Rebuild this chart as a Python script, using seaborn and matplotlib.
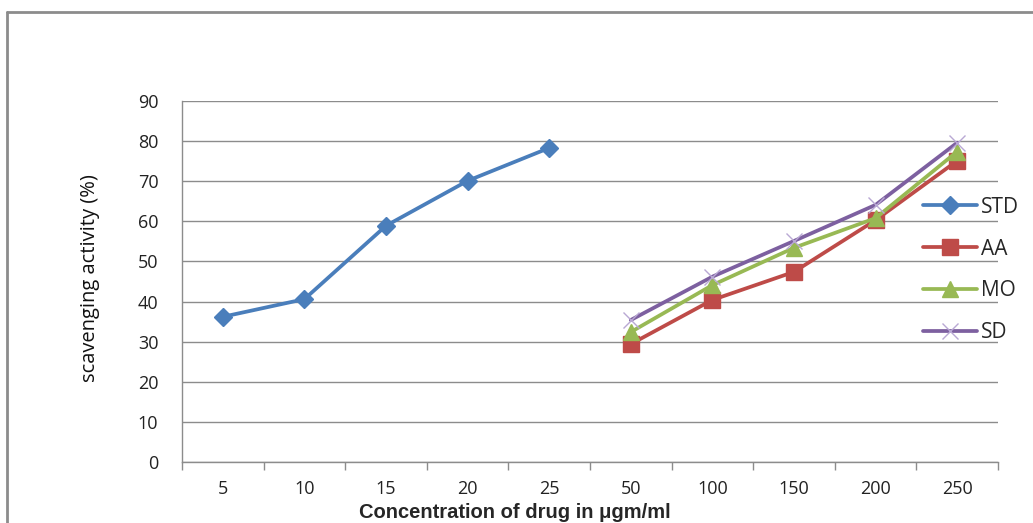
import matplotlib
matplotlib.use("Agg")
import matplotlib.pyplot as plt
from matplotlib.lines import Line2D
from matplotlib.ticker import FixedLocator
import seaborn as sns
import pandas as pd

# categorical concentrations on the x axis
concentrations = ['5', '10', '15', '20', '25', '50', '100', '150', '200', '250']

std_conc = ['5', '10', '15', '20', '25']
std_vals = [36.2, 40.6, 58.9, 70.1, 78.3]

ext_conc = ['50', '100', '150', '200', '250']
aa_vals = [29.4, 40.4, 47.4, 60.3, 75.1]
mo_vals = [32.4, 44.1, 53.4, 60.8, 77.4]
sd_vals = [35.4, 46.2, 55.1, 64.1, 79.6]

yticks = [0, 10, 20, 30, 40, 50, 60, 70, 80, 90]

rows = []
for c, v in zip(std_conc, std_vals):
    rows.append(('STD', c, v))
for name, vals in [('AA', aa_vals), ('MO', mo_vals), ('SD', sd_vals)]:
    for c, v in zip(ext_conc, vals):
        rows.append((name, c, v))
df = pd.DataFrame(rows, columns=['series', 'conc', 'value'])
df['pos'] = df['conc'].map({c: i for i, c in enumerate(concentrations)})

styles = {
    'STD': dict(color='#4A7EBB', marker='D', markersize=9.5, mec='#4A7EBB', mew=1),
    'AA': dict(color='#BE4B48', marker='s', markersize=11, mec='#BE4B48', mew=1),
    'MO': dict(color='#98B954', marker='^', markersize=12, mec='#98B954', mew=1),
    'SD': dict(color='#7D60A0', marker='x', markersize=12, mec='#B9A8D4', mew=1),
}

sns.set_style('white')
plt.rcParams['font.family'] = ['Open Sans', 'DejaVu Sans']

fig = plt.figure(figsize=(10.33, 5.23), dpi=100)
ax = fig.add_axes([182 / 1033, 61 / 523, 816 / 1033, 361 / 523])

for name in ['STD', 'AA', 'MO', 'SD']:
    sub = df[df['series'] == name]
    sns.lineplot(data=sub, x='pos', y='value', ax=ax, label=name,
                 linewidth=2.7, **styles[name])

grid_c = '#8C8C8C'
ax.set_xlim(-0.5, len(concentrations) - 0.5)
ax.set_ylim(0, 90)
ax.set_yticks(yticks)
ax.yaxis.grid(True, color=grid_c, linewidth=1)
ax.set_axisbelow(True)

ax.set_xticks(range(len(concentrations)))
ax.set_xticklabels(concentrations)
ax.xaxis.set_minor_locator(FixedLocator([i - 0.5 for i in range(len(concentrations) + 1)]))
ax.tick_params(axis='x', which='major', length=0, pad=13, labelsize=13, labelcolor='#222222')
ax.tick_params(axis='x', which='minor', length=6, width=1, color=grid_c, direction='out')
ax.tick_params(axis='y', length=6, width=1, color=grid_c, direction='out', pad=11,
               labelsize=13, labelcolor='#222222')
ax.xaxis.set_tick_params(which='minor', bottom=True)

for s in ['top', 'right']:
    ax.spines[s].set_visible(False)
for s in ['left', 'bottom']:
    ax.spines[s].set_color(grid_c)
    ax.spines[s].set_linewidth(1)

ax.set_xlabel('')
ax.set_ylabel('scavenging activity (%)', fontsize=14.5, color='#111111')
ax.yaxis.set_label_coords(-0.1005, 0.51)

fig.text(515 / 1033, 1 / 523, 'Concentration of drug in \u03bcgm/ml', ha='center', va='bottom',
         fontsize=14.5, fontweight='bold', family=['Liberation Sans', 'DejaVu Sans'])

leg = ax.legend(loc='center left', bbox_to_anchor=(913 / 1033, 1 - 270 / 523),
                bbox_transform=fig.transFigure, frameon=False, fontsize=15,
                handlelength=2.55, handletextpad=0.2, labelspacing=1.0, borderpad=0)

# outer chart border (cut off at right and bottom)
fig.add_artist(Line2D([7 / 1033, 7 / 1033], [0, 1 - 12 / 523], transform=fig.transFigure,
                      color='#8C8C8C', linewidth=2))
fig.add_artist(Line2D([7 / 1033, 1], [1 - 12 / 523, 1 - 12 / 523], transform=fig.transFigure,
                      color='#8C8C8C', linewidth=2))

fig.savefig('out.png', dpi=100)
